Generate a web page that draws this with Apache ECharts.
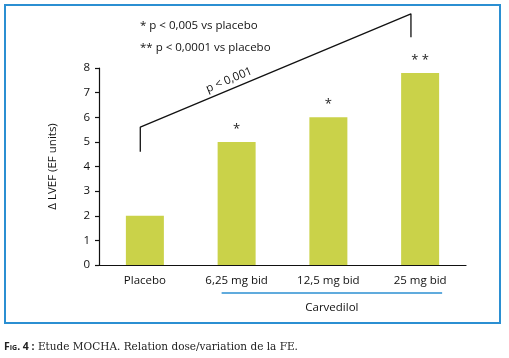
<!DOCTYPE html>
<html>
<head>
<meta charset="utf-8">
<script src="https://cdn.jsdelivr.net/npm/echarts@6/dist/echarts.min.js"></script>
<style>
html,body{margin:0;padding:0;background:#fff;}
#frame{position:absolute;left:4px;top:4px;width:497px;height:320px;border:2px solid #2b8fd2;box-sizing:border-box;}
#chart{position:absolute;left:0;top:0;width:509px;height:358px;}
#cap{position:absolute;left:4px;top:339px;font-size:10.5px;color:#222;font-family:"DejaVu Serif","Liberation Serif",serif;white-space:nowrap;}
#cap b{font-family:"Open Sans",sans-serif;font-weight:700;font-variant:small-caps;}
</style>
</head>
<body>
<div id="frame"></div>
<div id="chart"></div>
<div id="cap"><b>Fig. 4 :</b> Etude MOCHA. Relation dose/variation de la FE.</div>
<script>
const categories = ['Placebo', '6,25 mg bid', '12,5 mg bid', '25 mg bid'];
const values = [2.0, 5.0, 6.0, 7.8];
const stars = ['', '*', '*', '* *'];
const yTicks = [0, 1, 2, 3, 4, 5, 6, 7, 8];
const bracketX = [-0.05, -0.05, 2.9, 2.9];
const bracketY = [4.6, 5.6, 10.2, 9.25];
const notes = ['* p < 0,005 vs placebo', '** p < 0,0001 vs placebo'];
const groupLabel = 'Carvedilol';
const trendLabel = 'p < 0,001';

const font = '"Open Sans", "Lato", sans-serif';
const chart = echarts.init(document.getElementById('chart'));
chart.setOption({
  animation: false,
  grid: { left: 99, right: 43, top: 68, bottom: 93 },
  xAxis: [{
    type: 'category',
    data: categories,
    axisLine: { onZero: false, lineStyle: { color: '#111', width: 1.2 } },
    axisTick: { length: 7, lineStyle: { color: '#111', width: 1.2 } },
    axisLabel: { color: '#111', fontSize: 11.5, fontFamily: font, margin: 10 }
  }, {
    type: 'value', min: -0.5, max: 3.5, show: false
  }],
  yAxis: {
    type: 'value', min: yTicks[0], max: yTicks[yTicks.length - 1], interval: 1,
    name: 'Δ LVEF (EF units)', nameLocation: 'middle', nameGap: 40, nameRotate: 90,
    nameTextStyle: { color: '#111', fontSize: 11.5, fontFamily: font },
    axisLine: { show: true, onZero: false, lineStyle: { color: '#111', width: 1.2 } },
    axisTick: { show: true, length: 4, lineStyle: { color: '#111', width: 1.2 } },
    axisLabel: { color: '#111', fontSize: 11.5, fontFamily: font, margin: 9 },
    splitLine: { show: false }
  },
  series: [{
    type: 'bar',
    data: values,
    barWidth: 38,
    itemStyle: { color: '#cad249' },
    label: {
      show: true, position: 'top', distance: 6,
      formatter: p => stars[p.dataIndex],
      color: '#222', fontSize: 13, fontFamily: font
    }
  }, {
    type: 'line',
    xAxisIndex: 1,
    data: bracketX.map((x, i) => [x, bracketY[i]]),
    clip: false,
    symbol: 'none',
    lineStyle: { color: '#111', width: 1.3 }
  }]
});
const a = chart.convertToPixel({ xAxisIndex: 0 }, categories[1]) - 15;
const b = chart.convertToPixel({ xAxisIndex: 0 }, categories[3]) + 22;
chart.setOption({
  graphic: [
    { type: 'text', left: 140, top: 20, style: { text: notes[0], fill: '#111', font: '11.5px ' + font } },
    { type: 'text', left: 140, top: 42, style: { text: notes[1], fill: '#111', font: '11.5px ' + font } },
    { type: 'text', x: 229, y: 80, rotation: 22.5 * Math.PI / 180,
      style: { text: trendLabel, fill: '#111', font: '11.5px ' + font, align: 'center', verticalAlign: 'middle' } },
    { type: 'line', shape: { x1: a, y1: 293, x2: b, y2: 293 }, style: { stroke: '#2b8fd2', lineWidth: 1.3 } },
    { type: 'text', x: (a + b) / 2, y: 308,
      style: { text: groupLabel, fill: '#111', font: '11.5px ' + font, align: 'center', verticalAlign: 'middle' } }
  ]
});
</script>
</body>
</html>
